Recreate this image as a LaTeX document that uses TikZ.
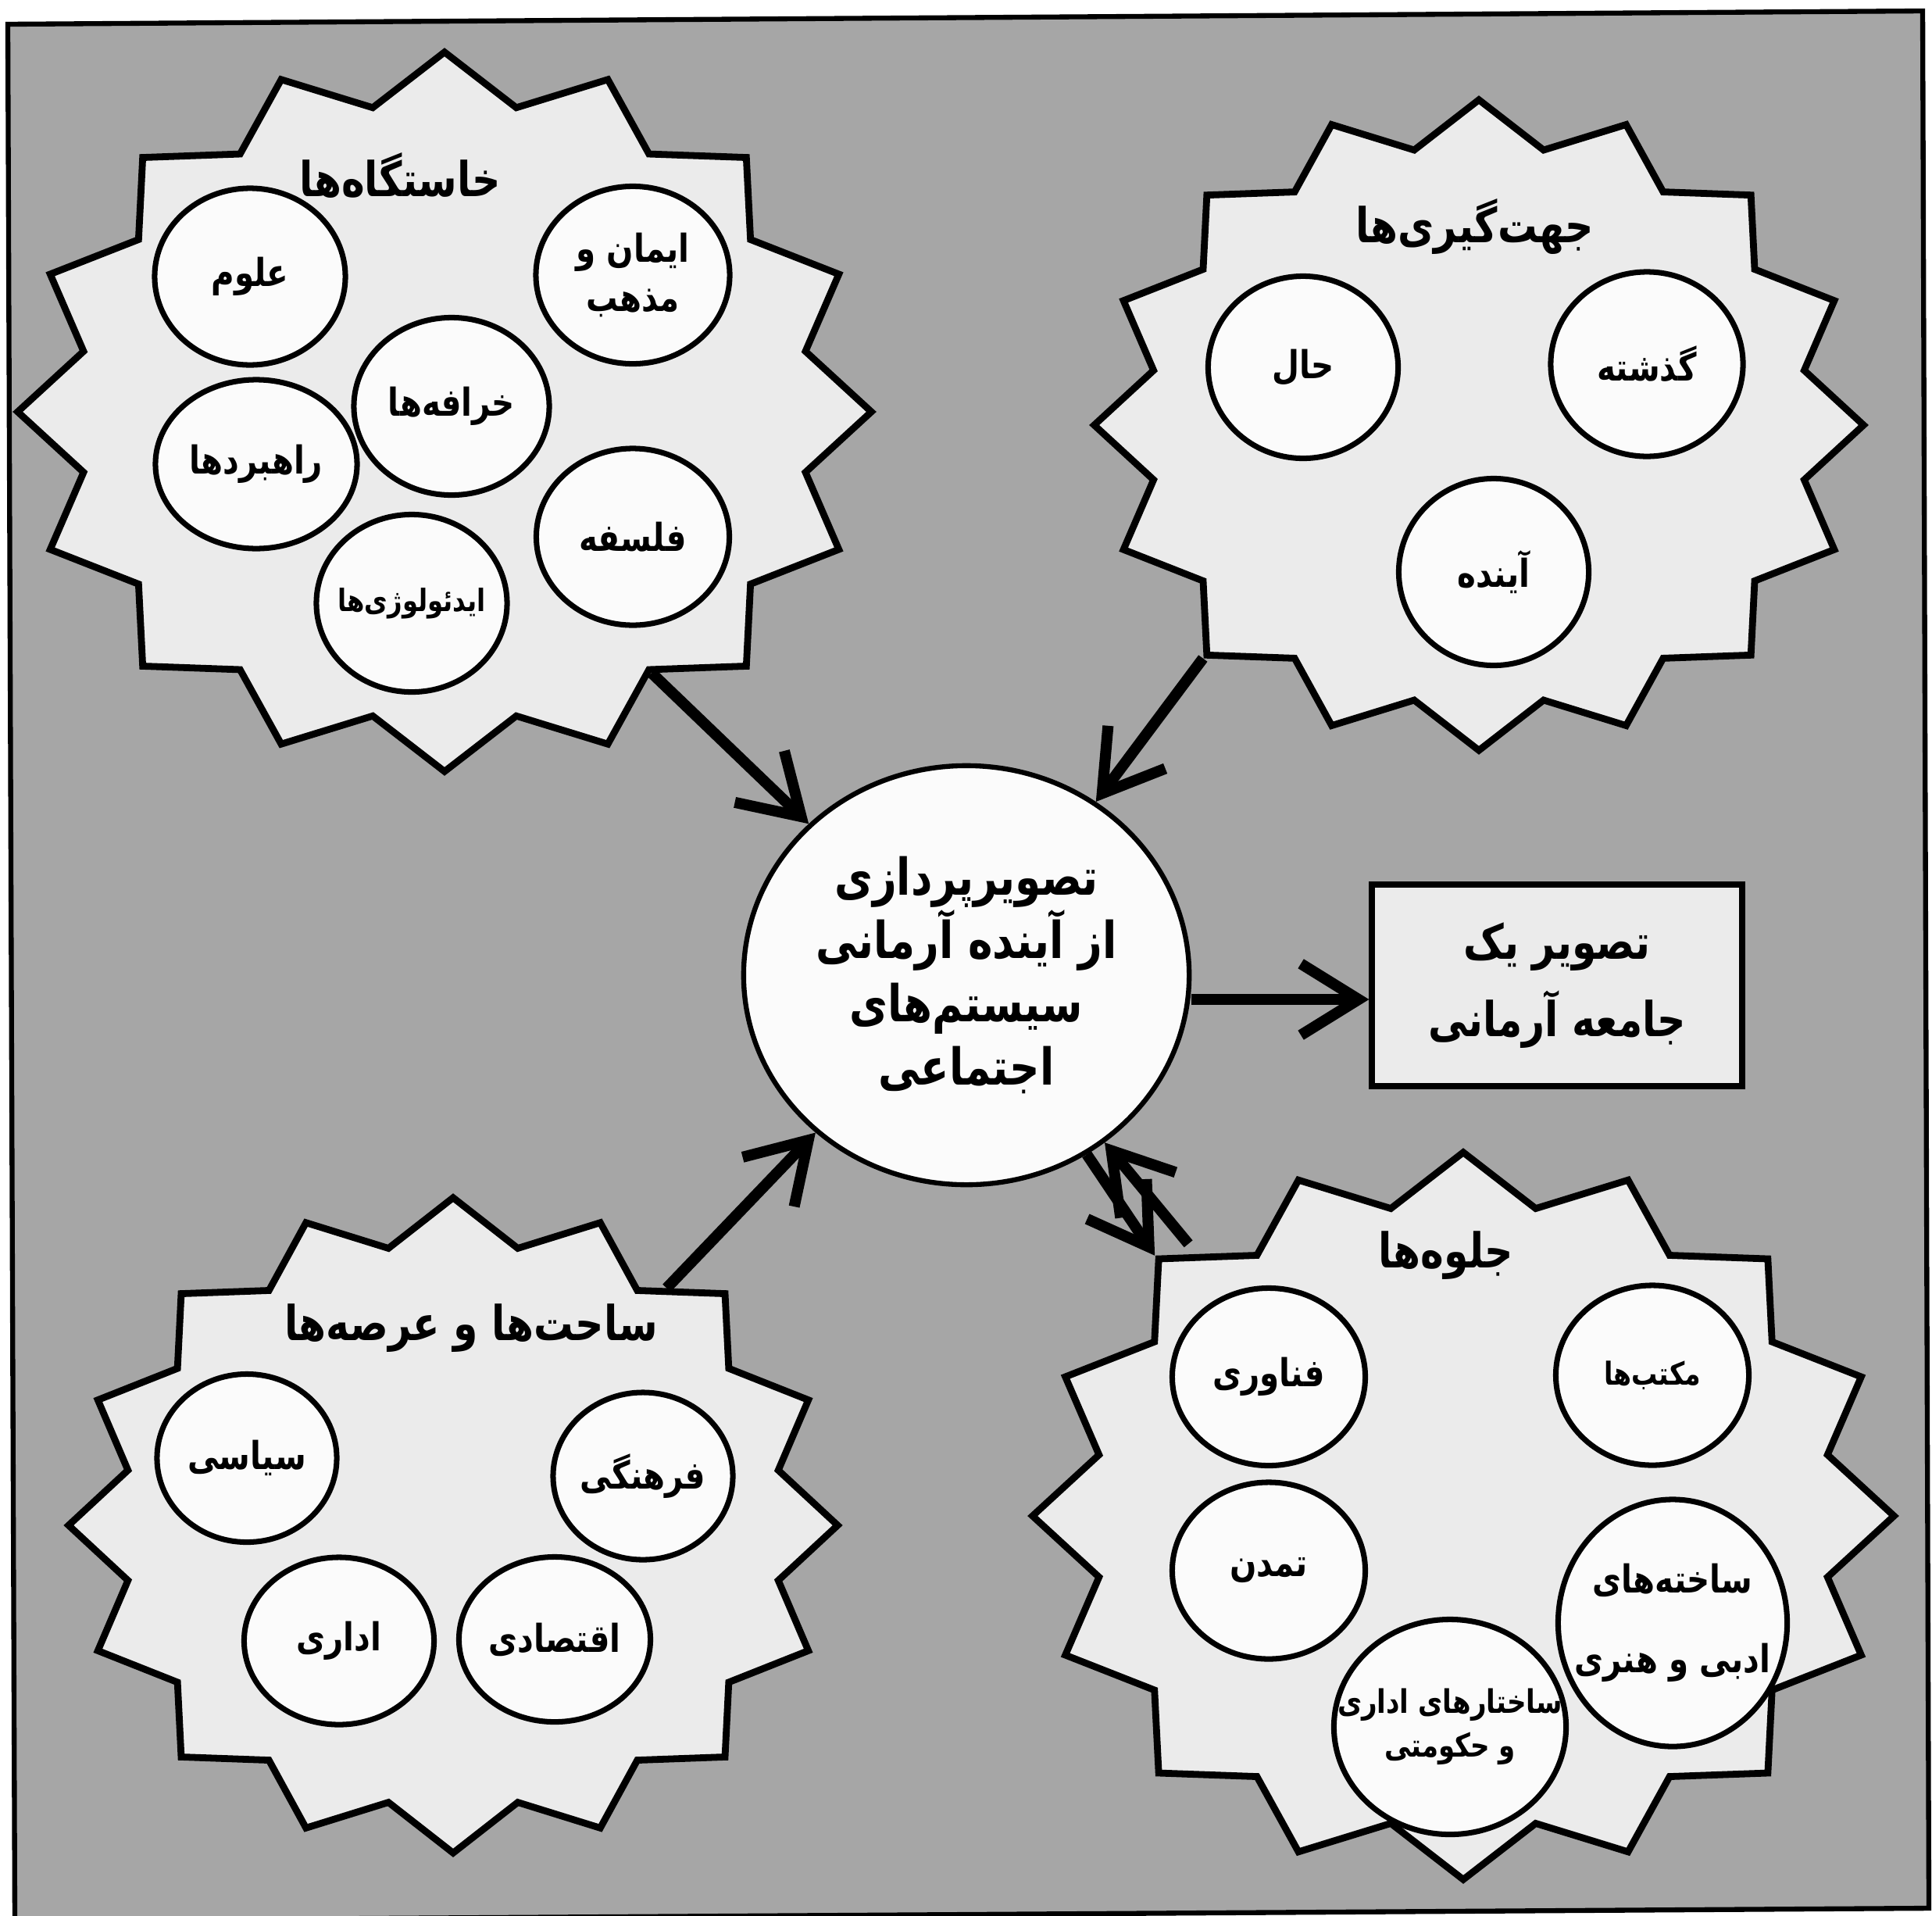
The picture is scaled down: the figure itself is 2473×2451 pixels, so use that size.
\documentclass[tikz,border=0pt]{standalone}
\usepackage{fontspec}
\usetikzlibrary{shapes.geometric,arrows.meta,calc}
\newfontfamily\fa[Script=Arabic, FakeStretch=0.82]{DejaVu Sans}
\TeXXeTstate=1
\newcommand\rl[1]{\beginR#1\endR}
\definecolor{paperfill}{gray}{0.65}
\definecolor{burstfill}{gray}{0.92}
\definecolor{discfill}{gray}{0.985}
\tikzset{
  sunburst/.style={star, star points=16, star point ratio=1.16, draw=black,
    line width=2.5pt, fill=burstfill, inner sep=0pt, line join=miter, transform shape},
  bubble/.style={ellipse, draw=black, line width=2pt, fill=discfill, inner sep=-1cm,
    align=center, font=\fa\bfseries\fontsize{14}{23}\selectfont},
  heading/.style={inner sep=0pt, font=\fa\bfseries\fontsize{17.5}{20}\selectfont},
  hub/.style={ellipse, draw=black, line width=1.8pt, fill=discfill, inner sep=-1cm,
    align=center, font=\fa\bfseries\fontsize{18.5}{23}\selectfont},
  resultbox/.style={rectangle, draw=black, line width=2.3pt, fill=burstfill, inner sep=0pt,
    align=center, font=\fa\bfseries\fontsize{17.5}{28}\selectfont},
  thickarrow/.style={line width=4pt, -{Straight Barb[length=21pt,width=26pt]}},
}
\begin{document}
\begin{tikzpicture}[x=0.01cm,y=-0.01cm]
  % page and framed stippled panel
  \useasboundingbox (0,0) rectangle (2473,2451);
  \clip (0,0) rectangle (2473,2451);
  \fill[white] (0,0) rectangle (2473,2451);
  \draw[line width=1.8pt, fill=paperfill, line join=miter]
    (10,31) -- (2461,14) -- (2469,2442) -- (19,2458) -- cycle;

  % four sixteen-point bursts
  \begin{scope}[shift={(569,527)}]
    \node[sunburst, minimum size=9.2cm, xscale=1.187] (s1) at (0,0) {};
  \end{scope}
  \begin{scope}[shift={(1893,544)}]
    \node[sunburst, minimum size=8.32cm, xscale=1.183] (s2) at (0,0) {};
  \end{scope}
  \begin{scope}[shift={(580,1952)}]
    \node[sunburst, minimum size=8.38cm, xscale=1.174] (s3) at (0,0) {};
  \end{scope}
  \begin{scope}[shift={(1873,1940)}]
    \node[sunburst, minimum size=9.3cm, xscale=1.185] (s4) at (0,0) {};
  \end{scope}

  % origins
  \node[heading] (t1) at (512,225) {\rl{خاستگاه‌ها}};
  \node[bubble, minimum width=2.44cm, minimum height=2.26cm] (b11) at (320,354) {\rl{علوم}};
  \node[bubble, minimum width=2.48cm, minimum height=2.27cm] (b12) at (810,352) {\rl{ایمان و}\\[-5pt]\rl{مذهب}};
  \node[bubble, minimum width=2.50cm, minimum height=2.27cm] (b13) at (578,520) {\rl{خرافه‌ها}};
  \node[bubble, minimum width=2.58cm, minimum height=2.16cm] (b14) at (328,594) {\rl{راهبردها}};
  \node[bubble, minimum width=2.47cm, minimum height=2.26cm] (b15) at (810,687) {\rl{فلسفه}};
  \node[bubble, minimum width=2.44cm, minimum height=2.27cm, font=\fa\bfseries\fontsize{11.2}{14}\selectfont] (b16) at (527,772) {\rl{ایدئولوژی‌ها}};

  % orientations
  \node[heading] (t2) at (1888,290) {\rl{جهت‌گیری‌ها}};
  \node[bubble, minimum width=2.43cm, minimum height=2.33cm] (b21) at (1668,470) {\rl{حال}};
  \node[bubble, minimum width=2.46cm, minimum height=2.36cm] (b22) at (2108,466) {\rl{گذشته}};
  \node[bubble, minimum width=2.43cm, minimum height=2.39cm] (b23) at (1912,732) {\rl{آینده}};

  % domains
  \node[heading] (t3) at (603,1700) {\rl{ساحت‌ها و عرصه‌ها}};
  \node[bubble, minimum width=2.30cm, minimum height=2.15cm] (b31) at (316,1866) {\rl{سیاسی}};
  \node[bubble, minimum width=2.30cm, minimum height=2.14cm] (b32) at (823,1889) {\rl{فرهنگی}};
  \node[bubble, minimum width=2.43cm, minimum height=2.14cm] (b33) at (434,2100) {\rl{اداری}};
  \node[bubble, minimum width=2.45cm, minimum height=2.11cm] (b34) at (710,2098) {\rl{اقتصادی}};

  % manifestations
  \node[heading] (t4) at (1851,1607) {\rl{جلوه‌ها}};
  \node[bubble, minimum width=2.47cm, minimum height=2.27cm] (b41) at (1624,1762) {\rl{فناوری}};
  \node[bubble, minimum width=2.47cm, minimum height=2.30cm, font=\fa\bfseries\fontsize{11.5}{14}\selectfont] (b42) at (2115,1760) {\rl{مکتب‌ها}};
  \node[bubble, minimum width=2.47cm, minimum height=2.26cm] (b43) at (1624,2010) {\rl{تمدن}};
  \node[bubble, minimum width=2.93cm, minimum height=3.16cm] (b44) at (2141,2077) {\rl{ساخته‌های}\\[6pt]\rl{ادبی و هنری}};
  \node[bubble, minimum width=2.97cm, minimum height=2.75cm, font=\fa\bfseries\fontsize{11.8}{16}\selectfont] (b45) at (1856,2210) {\rl{ساختارهای اداری}\\\rl{و حکومتی}};

  % central idea and its outcome
  \node[hub, minimum width=5.7cm, minimum height=5.36cm] (c) at (1237,1248)
    {\rl{تصویرپردازی}\\\rl{از آینده آرمانی}\\\rl{سیستم‌های}\\\rl{اجتماعی}};
  \node[resultbox, minimum width=4.73cm, minimum height=2.58cm] (r) at (1993,1261)
    {\rl{تصویر یک}\\\rl{جامعه آرمانی}};

  % connectors
  \draw[thickarrow] (s1.inner point 10) -- (c);
  \draw[thickarrow] (s2.outer point 7) -- (c);
  \coordinate (a3) at ($(s3.inner point 15)!0.3!(s3.outer point 15)$);
  \draw[thickarrow] (a3) -- (c);
  \coordinate (rin) at ($(r.west)+(0,18)$);
  \draw[thickarrow] (c.east |- rin) -- (rin);
  \coordinate (a5) at ($(s4.outer point 3)+(43,-15)$);
  \draw[thickarrow] (a5) -- (c);
  \draw[thickarrow] (c) -- (s4.outer point 3);
\end{tikzpicture}
\end{document}
